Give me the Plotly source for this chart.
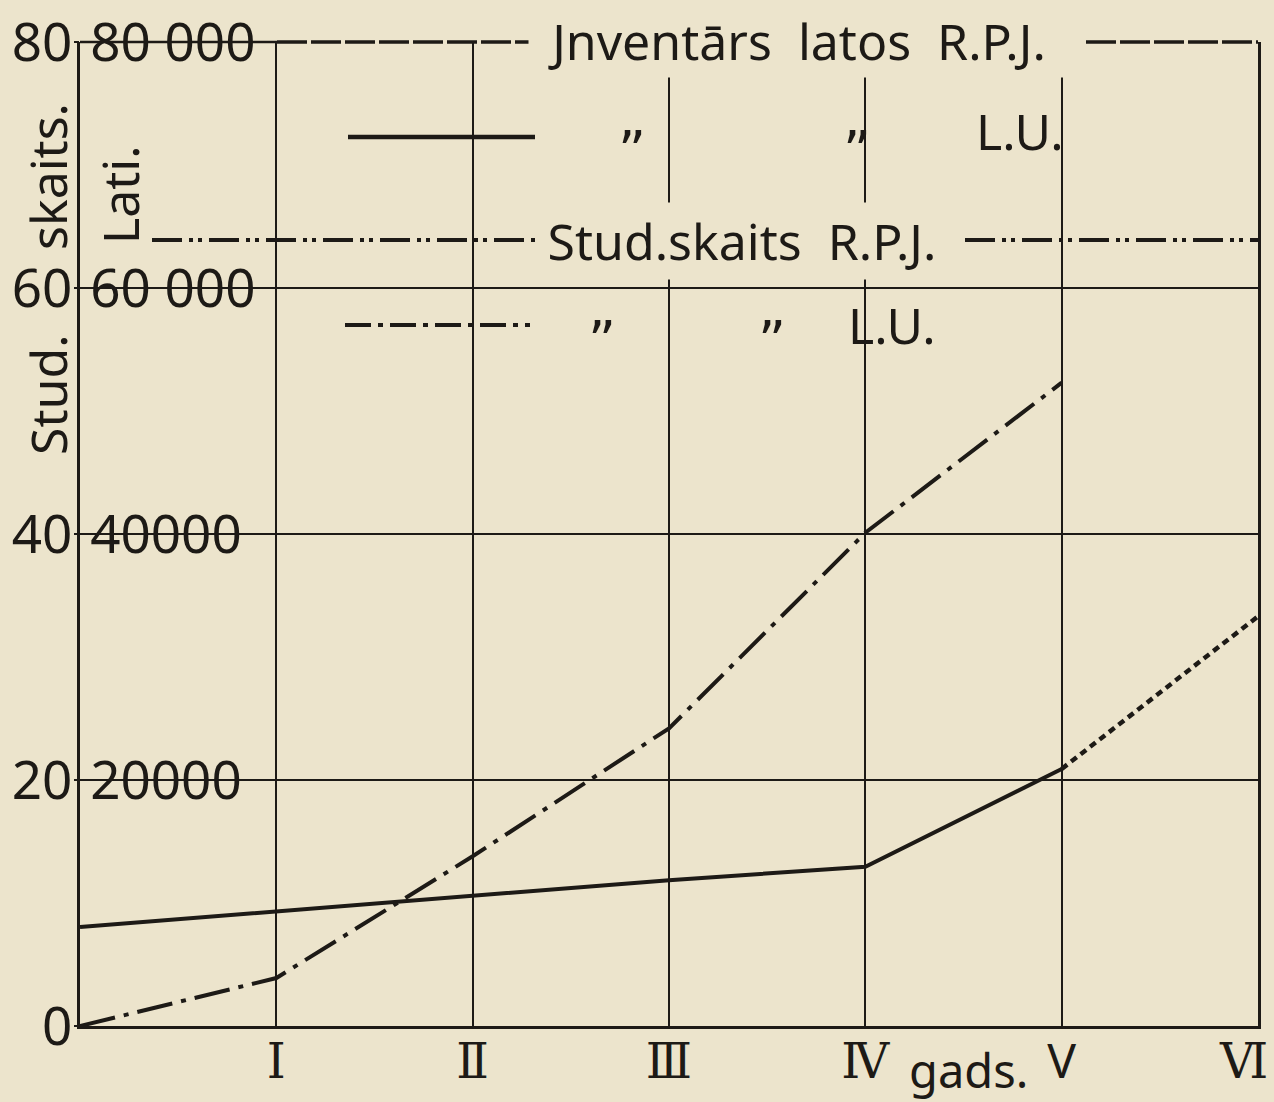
import plotly.graph_objects as go

# ---------------- data ----------------
year_ticks = [1, 2, 3, 4, 5, 6]
year_labels = ["Ⅰ", "Ⅱ", "Ⅲ", "Ⅳ", "<span style='font-family:Noto Sans'>V</span>", "Ⅵ"]

inv_lu_x = [0, 1, 2, 3, 4, 5]
inv_lu = [8050, 9300, 10600, 11850, 12950, 20900]        # Jnventārs latos L.U.

inv_rpj_x = [5, 6]
inv_rpj = [20900, 33300]                                  # Jnventārs latos R.P.J.

stud_lu_x = [0, 1, 2, 3, 4, 5]
stud_lu = [0, 3.9, 13.8, 24.2, 40.1, 52.3]                # Stud. skaits L.U.

lati_ticks = [20000, 40000, 60000, 80000]
lati_labels = ["20000", "40000", "60 000", "80 000"]
stud_ticks = [0, 20, 40, 60, 80]
stud_labels = ["0", "20", "40", "60", "80"]

# ---------------- style ----------------
PAPER = "#ece4cc"
INK = "#1d1a16"
W, H = 1274, 1102
ML, MR, MT, MB = 80, 16, 42, 76
PW, PH = W - ML - MR, H - MT - MB
FONT = "Noto Sans, DejaVu Sans, sans-serif"


def xp(px):
    return (px - ML) / PW


def yp(py):
    return (H - MB - py) / PH


fig = go.Figure()

fig.add_trace(go.Scatter(x=inv_lu_x, y=inv_lu, mode="lines", yaxis="y",
                         line=dict(color=INK, width=4), showlegend=False))
fig.add_trace(go.Scatter(x=inv_rpj_x, y=inv_rpj, mode="lines", yaxis="y",
                         line=dict(color=INK, width=4.5, dash="7px,5px"), showlegend=False))
fig.add_trace(go.Scatter(x=stud_lu_x, y=stud_lu, mode="lines", yaxis="y2",
                         line=dict(color=INK, width=4, dash="36px,9px,5px,9px"),
                         showlegend=False))

# legend sample lines (decoration)
def seg(x0, x1, y, dash="solid", width=4):
    fig.add_shape(type="line", xref="paper", yref="paper",
                  x0=xp(x0), x1=xp(x1), y0=yp(y), y1=yp(y),
                  line=dict(color=INK, width=width, dash=dash))

seg(ML, 277, MT, "solid", 2.5)
seg(277, 533, MT, "30px,4px", 3.5)
seg(1086, W - MR, MT, "30px,4px", 3.5)
seg(348, 535, 137, "solid", 4.5)
seg(152, 535, 240, "30px,7px,4px,5px,4px,7px", 4)
seg(965, W - MR, 240, "30px,7px,4px,5px,4px,7px", 4)
seg(345, 530, 325, "26px,7px,5px,7px", 4)

ann = []


def txt(text, px, py, size=50, angle=0, family=FONT, **kw):
    d = dict(text=text, x=xp(px), y=yp(py), xref="paper", yref="paper",
             showarrow=False, textangle=angle, xanchor="center", yanchor="middle",
             font=dict(family=family, size=size, color=INK))
    d.update(kw)
    ann.append(d)


QF = "DejaVu Sans, Noto Sans, sans-serif"
txt("Jnventārs\u00a0 latos\u00a0 R.P.J.", 797, 41, width=536, height=72,
    bgcolor=PAPER, borderpad=0)
txt("”", 632, 150, size=54, family=QF)
txt("”", 857, 150, size=54, family=QF)
txt("L.U.", 1020, 131)
txt("Stud.skaits\u00a0 R.P.J.", 742, 241, width=404, height=76,
    bgcolor=PAPER, borderpad=0)
txt("”", 602, 340, size=54, family=QF)
txt("”", 772, 340, size=54, family=QF)
txt("L.U.", 892, 325)
txt("skaits.", 48, 177, angle=-90)
txt("Stud.", 48, 395, angle=-90)
txt("Lati.", 120, 195, angle=-90)
txt("gads.", 968, 1070, size=47)

fig.update_layout(
    width=W, height=H,
    margin=dict(l=ML, r=MR, t=MT, b=MB, pad=0, autoexpand=False),
    paper_bgcolor=PAPER, plot_bgcolor=PAPER,
    font=dict(family=FONT, color=INK),
    annotations=ann,
    xaxis=dict(range=[0, 6], tickvals=[1, 2, 3, 4, 5, 5.93], ticktext=year_labels,
               showgrid=False, zeroline=False, showline=True, linecolor=INK,
               linewidth=2.5, ticks="", ticklabelstandoff=-8, automargin=False,
               tickfont=dict(family="DejaVu Serif, Liberation Serif, serif", size=48,
                             color=INK),
               minor=dict(tickvals=year_ticks, showgrid=True, gridcolor=INK,
                          gridwidth=2.2, ticks=""),
               fixedrange=True),
    yaxis=dict(range=[0, 80000], tickvals=lati_ticks, ticktext=lati_labels,
               ticklabelposition="inside", ticklabeloverflow="allow",
               ticklabelstandoff=18, automargin=False,
               showgrid=False, zeroline=False, showline=True, mirror=True,
               linecolor=INK, linewidth=2.5, ticks="",
               tickfont=dict(family=FONT, size=53, color=INK),
               minor=dict(tickvals=[20000, 40000, 60000], showgrid=True,
                          gridcolor=INK, gridwidth=2.2, ticks=""),
               fixedrange=True),
    yaxis2=dict(range=[0, 80], overlaying="y", side="left", tickvals=stud_ticks,
                ticktext=stud_labels, showgrid=False, zeroline=False, automargin=False,
                showline=False, ticks="outside", ticklen=5, tickwidth=2,
                ticklabelstandoff=-9,
                tickcolor=INK, tickfont=dict(family=FONT, size=53, color=INK),
                fixedrange=True),
)

fig.write_html("out.html", config={"displayModeBar": False},
               post_script="document.body.style.margin='0';document.body.style.background='%s';" % PAPER)
